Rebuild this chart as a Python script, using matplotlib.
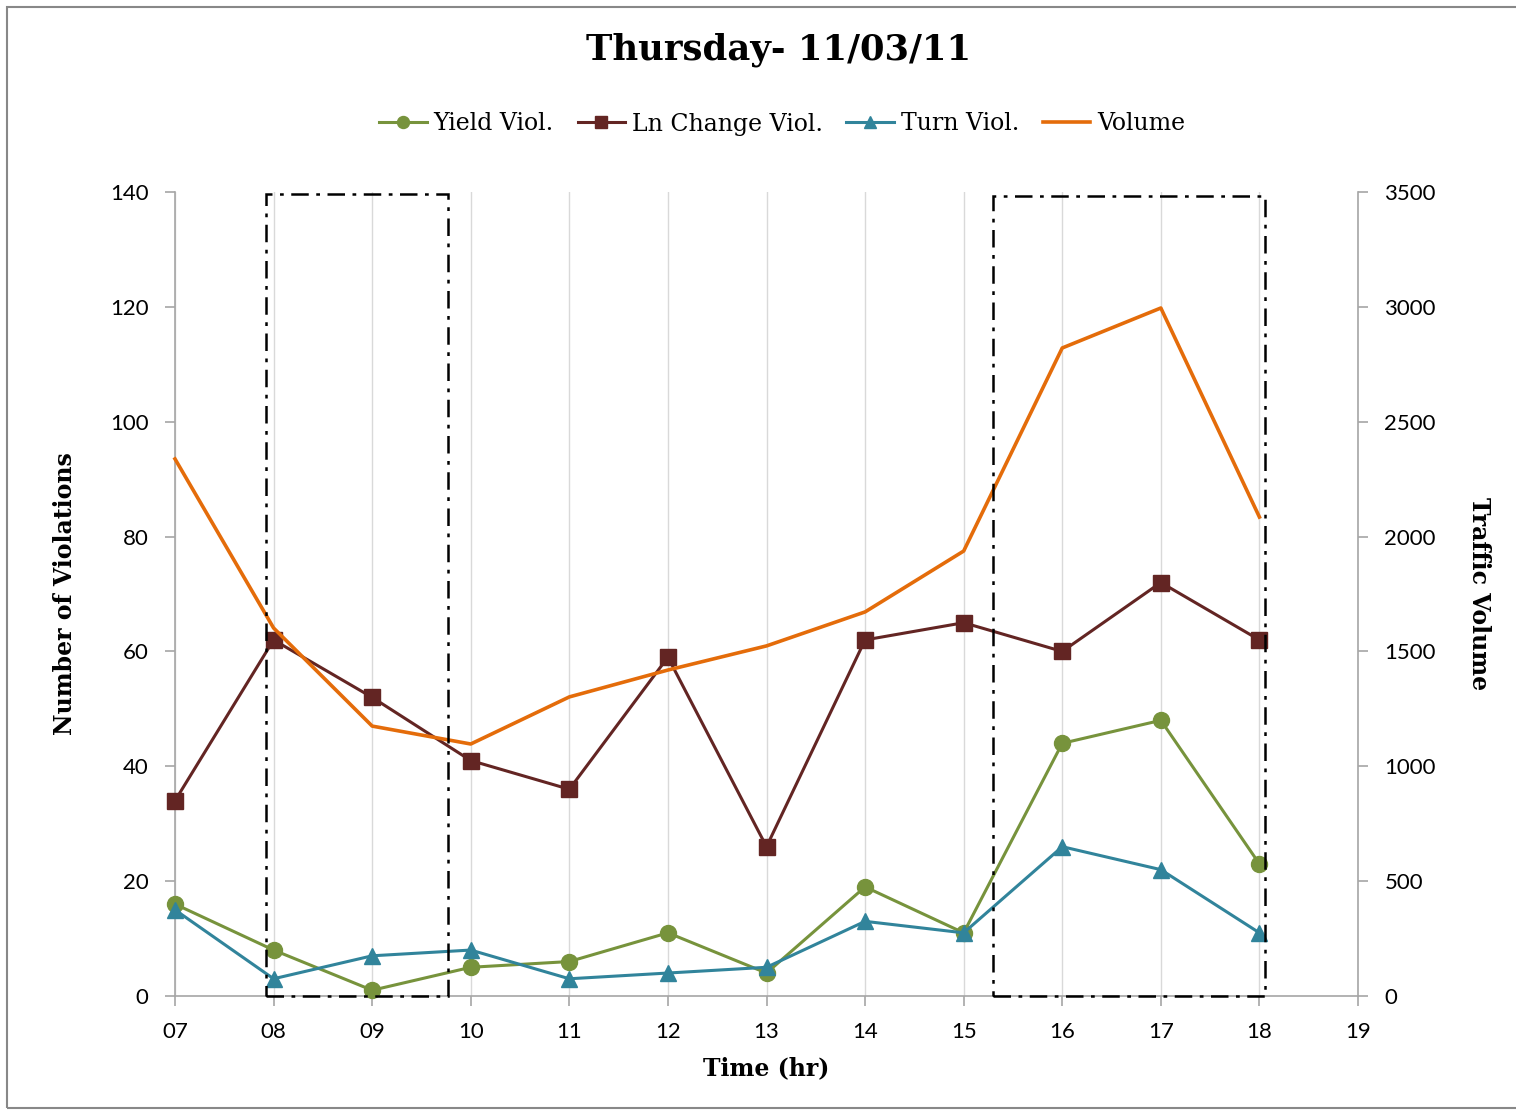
import matplotlib
matplotlib.use("Agg")
import matplotlib.pyplot as plt
from matplotlib.patches import Rectangle

hours = [7, 8, 9, 10, 11, 12, 13, 14, 15, 16, 17, 18]
xtick_labels = ["07", "08", "09", "10", "11", "12", "13", "14", "15", "16", "17", "18", "19"]
yield_viol = [16, 8, 1, 5, 6, 11, 4, 19, 11, 44, 48, 23]
ln_change_viol = [34, 62, 52, 41, 36, 59, 26, 62, 65, 60, 72, 62]
turn_viol = [15, 3, 7, 8, 3, 4, 5, 13, 11, 26, 22, 11]
volume = [2338, 1602, 1175, 1097, 1302, 1419, 1524, 1672, 1937, 2821, 2995, 2085]
boxes = [(7.92, 9.77, 139.6), (15.30, 18.06, 139.3)]

W, H = 1516, 1111
fig = plt.figure(figsize=(W / 100, H / 100), dpi=100)
ax = fig.add_axes([175 / W, 1 - 996 / H, (1358 - 175) / W, (996 - 192) / H])
ax2 = ax.twinx()

green = "#77933C"
maroon = "#632523"
teal = "#31849B"
orange = "#E46C0A"
gray = "#A6A6A6"
sans = "Lato"
serif = "DejaVu Serif"

ax.plot(hours, yield_viol, color=green, lw=2.2, marker="o", ms=11.5, label="Yield Viol.", zorder=5, clip_on=False)
ax.plot(hours, ln_change_viol, color=maroon, lw=2.2, marker="s", ms=11, label="Ln Change Viol.", zorder=5, clip_on=False)
ax.plot(hours, turn_viol, color=teal, lw=2.2, marker="^", ms=12, label="Turn Viol.", zorder=5, clip_on=False)
ax2.plot(hours, volume, color=orange, lw=2.6, label="Volume", zorder=4, clip_on=False)

ax.set_xlim(7, 19)
ax.set_ylim(0, 140)
ax2.set_ylim(0, 3500)
ax.set_xticks(range(7, 20))
ax.set_xticklabels(xtick_labels)
ax.set_yticks(range(0, 141, 20))
ax2.set_yticks(range(0, 3501, 500))
ax.grid(axis="x", color="#D9D9D9", lw=1)
ax.set_axisbelow(True)

for a in (ax, ax2):
    a.spines["top"].set_visible(False)
    for s in ["left", "right", "bottom"]:
        a.spines[s].set_color(gray)
        a.spines[s].set_linewidth(1.2)
    a.tick_params(axis="both", colors=gray, labelcolor="black", labelsize=16, length=7, width=1.2)
    for lab in a.get_xticklabels() + a.get_yticklabels():
        lab.set_fontfamily(sans)
ax2.spines["bottom"].set_visible(False)
ax2.spines["left"].set_visible(False)
ax.spines["right"].set_visible(False)
ax.tick_params(axis="x", pad=12)
ax.tick_params(axis="y", pad=12)
ax2.tick_params(axis="y", pad=12)

for x0, x1, ytop in boxes:
    ax2.add_patch(Rectangle((x0, 0.0), x1 - x0, ytop * 25, fill=False, ec="black", lw=1.8,
                            ls=(0, (7, 3, 1.5, 3)), zorder=6, clip_on=False))

ax.set_xlabel("Time (hr)", fontfamily=serif, fontweight="bold", fontsize=17, labelpad=10)
ax.set_ylabel("Number of Violations", fontfamily=serif, fontweight="bold", fontsize=17, labelpad=24)
ax2.set_ylabel("Traffic Volume", fontfamily=serif, fontweight="bold", fontsize=17, rotation=270, labelpad=40)

fig.text(0.5135, 1 - 50 / H, "Thursday- 11/03/11", ha="center", va="center",
         fontfamily=serif, fontweight="bold", fontsize=25.5)

h1, l1 = ax.get_legend_handles_labels()
h2, l2 = ax2.get_legend_handles_labels()
fig.legend(h1 + h2, l1 + l2, loc="center", bbox_to_anchor=(0.516, 1 - 124 / H), ncol=4,
           frameon=False, prop={"family": serif, "size": 17}, handlelength=2.0,
           handletextpad=0.3, columnspacing=1.0, markerscale=0.75)

fig.patches.append(Rectangle((7 / W, 1 - 1108 / H), 1 - 7 / W + 0.01, (1108 - 7) / H,
                             transform=fig.transFigure, fill=False, ec="#888888", lw=1.5))

fig.savefig("out.png", dpi=100)
